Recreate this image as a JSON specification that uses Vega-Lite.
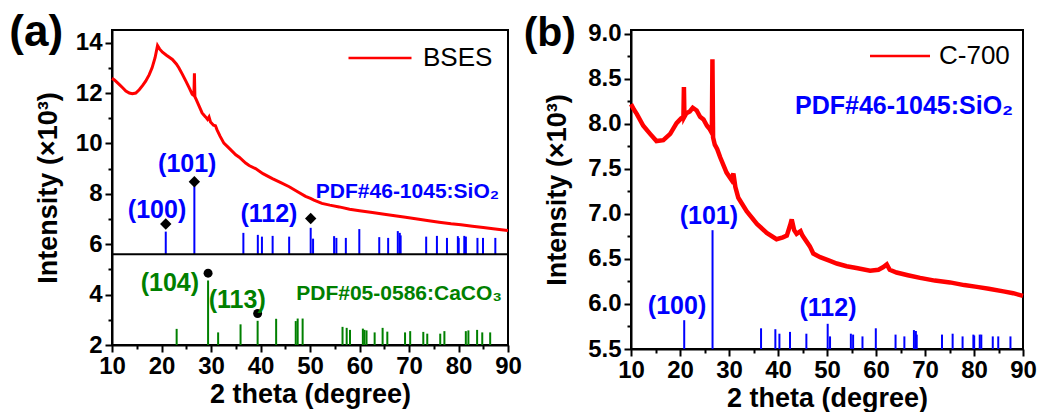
{
  "$schema": "https://vega.github.io/schema/vega-lite/v6.json",
  "background": "white",
  "padding": {"left": 8, "top": 10, "right": 5, "bottom": 0},
  "spacing": -1,
  "config": {
    "font": "Liberation Sans",
    "view": {"stroke": "black", "strokeWidth": 2},
    "axis": {
      "grid": false,
      "domainColor": "black", "domainWidth": 2,
      "tickColor": "black", "tickWidth": 2,
      "labelFont": "Liberation Sans", "labelFontWeight": "bold", "labelFontSize": 24, "labelColor": "black",
      "titleFont": "Liberation Sans", "titleFontWeight": "bold", "titleFontSize": 27, "titleColor": "black"
    },
    "legend": {
      "orient": "top-right", "padding": 2,
      "labelFont": "Liberation Sans", "labelFontSize": 26, "labelColor": "black", "labelFontWeight": "normal",
      "symbolType": "M-3,0H3", "symbolStrokeWidth": 2.5
    },
    "title": {"font": "Liberation Sans", "fontSize": 44, "fontWeight": "bold", "color": "black"}
  },
  "resolve": {"scale": {"color": "independent", "shape": "independent"}, "legend": {"color": "independent"}},
  "datasets": {
    "bses": [
      {"theta": 10, "intensity": 12.58}, {"theta": 10.5, "intensity": 12.52}, {"theta": 11.4, "intensity": 12.35},
      {"theta": 12.2, "intensity": 12.2}, {"theta": 12.8, "intensity": 12.08}, {"theta": 13.5, "intensity": 12.0},
      {"theta": 14.1, "intensity": 11.97}, {"theta": 14.8, "intensity": 12.0}, {"theta": 15.5, "intensity": 12.13},
      {"theta": 16.2, "intensity": 12.3}, {"theta": 16.8, "intensity": 12.47}, {"theta": 17.5, "intensity": 12.72},
      {"theta": 18.1, "intensity": 13.0}, {"theta": 18.7, "intensity": 13.4}, {"theta": 19.2, "intensity": 13.88},
      {"theta": 19.6, "intensity": 13.75}, {"theta": 20.2, "intensity": 13.62}, {"theta": 21.0, "intensity": 13.5},
      {"theta": 22.2, "intensity": 13.33}, {"theta": 23.0, "intensity": 13.15}, {"theta": 23.5, "intensity": 13.0},
      {"theta": 24.2, "intensity": 12.75}, {"theta": 24.9, "intensity": 12.48}, {"theta": 25.6, "intensity": 12.2},
      {"theta": 26.2, "intensity": 11.95}, {"theta": 26.55, "intensity": 11.9}, {"theta": 26.65, "intensity": 12.78},
      {"theta": 26.75, "intensity": 11.85}, {"theta": 27.0, "intensity": 11.75}, {"theta": 27.6, "intensity": 11.48},
      {"theta": 28.2, "intensity": 11.21}, {"theta": 28.9, "intensity": 11.05}, {"theta": 29.3, "intensity": 10.95},
      {"theta": 29.6, "intensity": 11.05}, {"theta": 29.9, "intensity": 10.85}, {"theta": 30.5, "intensity": 10.72},
      {"theta": 30.9, "intensity": 10.7}, {"theta": 31.2, "intensity": 10.55}, {"theta": 31.8, "intensity": 10.3},
      {"theta": 32.6, "intensity": 10.01}, {"theta": 33.8, "intensity": 9.78}, {"theta": 35.0, "intensity": 9.55},
      {"theta": 35.7, "intensity": 9.45}, {"theta": 37.0, "intensity": 9.22}, {"theta": 37.7, "intensity": 9.12},
      {"theta": 39.0, "intensity": 9.0}, {"theta": 40.5, "intensity": 8.8}, {"theta": 42.4, "intensity": 8.6},
      {"theta": 44.0, "intensity": 8.45}, {"theta": 45.8, "intensity": 8.28}, {"theta": 47.5, "intensity": 8.08},
      {"theta": 49.1, "intensity": 7.9}, {"theta": 50.1, "intensity": 7.82}, {"theta": 50.8, "intensity": 7.75},
      {"theta": 52.4, "intensity": 7.62}, {"theta": 54.0, "intensity": 7.55}, {"theta": 55.9, "intensity": 7.48},
      {"theta": 58.0, "intensity": 7.39}, {"theta": 60.0, "intensity": 7.33}, {"theta": 62.6, "intensity": 7.26},
      {"theta": 65.0, "intensity": 7.19}, {"theta": 67.5, "intensity": 7.12}, {"theta": 69.3, "intensity": 7.07},
      {"theta": 72.0, "intensity": 6.99}, {"theta": 74.0, "intensity": 6.93}, {"theta": 76.1, "intensity": 6.87},
      {"theta": 78.5, "intensity": 6.81}, {"theta": 80.5, "intensity": 6.77}, {"theta": 82.8, "intensity": 6.71},
      {"theta": 85.0, "intensity": 6.66}, {"theta": 87.0, "intensity": 6.61}, {"theta": 89.5, "intensity": 6.55},
      {"theta": 90, "intensity": 6.54}
    ],
    "c700": [
      {"theta": 10, "intensity": 8.22}, {"theta": 10.6, "intensity": 8.16}, {"theta": 11.2, "intensity": 8.11},
      {"theta": 12.5, "intensity": 7.98}, {"theta": 13.9, "intensity": 7.89}, {"theta": 15.2, "intensity": 7.81},
      {"theta": 16.6, "intensity": 7.82}, {"theta": 18.0, "intensity": 7.89}, {"theta": 19.3, "intensity": 8.01},
      {"theta": 20.2, "intensity": 8.06}, {"theta": 20.7, "intensity": 8.08}, {"theta": 20.8, "intensity": 8.41},
      {"theta": 20.9, "intensity": 8.08}, {"theta": 21.3, "intensity": 8.12}, {"theta": 22.0, "intensity": 8.14},
      {"theta": 22.6, "intensity": 8.18}, {"theta": 23.4, "intensity": 8.15}, {"theta": 24.1, "intensity": 8.08},
      {"theta": 24.8, "intensity": 8.05}, {"theta": 25.5, "intensity": 7.98}, {"theta": 26.1, "intensity": 7.94},
      {"theta": 26.5, "intensity": 7.9}, {"theta": 26.62, "intensity": 8.72}, {"theta": 26.75, "intensity": 7.85},
      {"theta": 27.1, "intensity": 7.77}, {"theta": 27.6, "intensity": 7.72}, {"theta": 28.2, "intensity": 7.63},
      {"theta": 29.5, "intensity": 7.46}, {"theta": 30.5, "intensity": 7.38}, {"theta": 30.9, "intensity": 7.45},
      {"theta": 31.3, "intensity": 7.3}, {"theta": 31.9, "intensity": 7.18}, {"theta": 33.6, "intensity": 7.03},
      {"theta": 35.7, "intensity": 6.89}, {"theta": 37.7, "intensity": 6.79}, {"theta": 39.7, "intensity": 6.72},
      {"theta": 41.0, "intensity": 6.74}, {"theta": 41.8, "intensity": 6.76}, {"theta": 42.5, "intensity": 6.88},
      {"theta": 42.8, "intensity": 6.94}, {"theta": 43.3, "intensity": 6.82}, {"theta": 43.8, "intensity": 6.78},
      {"theta": 44.6, "intensity": 6.81}, {"theta": 45.0, "intensity": 6.76}, {"theta": 46.5, "intensity": 6.64},
      {"theta": 47.2, "intensity": 6.56}, {"theta": 48.6, "intensity": 6.52}, {"theta": 50.6, "intensity": 6.48},
      {"theta": 52.0, "intensity": 6.45}, {"theta": 54.0, "intensity": 6.42}, {"theta": 56.0, "intensity": 6.4},
      {"theta": 58.8, "intensity": 6.37}, {"theta": 60.5, "intensity": 6.38}, {"theta": 61.5, "intensity": 6.41},
      {"theta": 62.2, "intensity": 6.44}, {"theta": 62.8, "intensity": 6.38}, {"theta": 64.2, "intensity": 6.35},
      {"theta": 66.5, "intensity": 6.32}, {"theta": 69.0, "intensity": 6.29}, {"theta": 72.0, "intensity": 6.26},
      {"theta": 75.1, "intensity": 6.24}, {"theta": 78.0, "intensity": 6.21}, {"theta": 80.6, "intensity": 6.19},
      {"theta": 83.0, "intensity": 6.17}, {"theta": 86.0, "intensity": 6.14}, {"theta": 88.0, "intensity": 6.12},
      {"theta": 90, "intensity": 6.09}
    ],
    "sio2": [
      {"theta": 20.86, "ha": 6.5, "hb": 5.82}, {"theta": 26.64, "ha": 8.3, "hb": 6.82},
      {"theta": 36.54, "ha": 6.45, "hb": 5.73}, {"theta": 39.46, "ha": 6.37, "hb": 5.72},
      {"theta": 40.29, "ha": 6.3, "hb": 5.67}, {"theta": 42.45, "ha": 6.33, "hb": 5.69},
      {"theta": 45.79, "ha": 6.3, "hb": 5.67}, {"theta": 50.14, "ha": 6.65, "hb": 5.78},
      {"theta": 50.62, "ha": 6.22, "hb": 5.64}, {"theta": 54.87, "ha": 6.32, "hb": 5.67},
      {"theta": 55.33, "ha": 6.25, "hb": 5.66}, {"theta": 57.24, "ha": 6.25, "hb": 5.64},
      {"theta": 59.96, "ha": 6.6, "hb": 5.73}, {"theta": 63.99, "ha": 6.28, "hb": 5.66},
      {"theta": 65.79, "ha": 6.25, "hb": 5.64}, {"theta": 67.74, "ha": 6.52, "hb": 5.71},
      {"theta": 68.14, "ha": 6.45, "hb": 5.7}, {"theta": 68.31, "ha": 6.35, "hb": 5.66},
      {"theta": 73.47, "ha": 6.3, "hb": 5.66}, {"theta": 75.64, "ha": 6.33, "hb": 5.67},
      {"theta": 77.67, "ha": 6.25, "hb": 5.64}, {"theta": 79.87, "ha": 6.32, "hb": 5.66},
      {"theta": 80.04, "ha": 6.25, "hb": 5.65}, {"theta": 81.17, "ha": 6.33, "hb": 5.66},
      {"theta": 81.49, "ha": 6.3, "hb": 5.66}, {"theta": 83.83, "ha": 6.25, "hb": 5.64},
      {"theta": 84.95, "ha": 6.25, "hb": 5.64}, {"theta": 87.44, "ha": 6.25, "hb": 5.64}
    ],
    "caco3": [
      {"theta": 23.06, "h": 2.64}, {"theta": 29.41, "h": 4.56}, {"theta": 31.44, "h": 2.5},
      {"theta": 35.97, "h": 2.82}, {"theta": 39.42, "h": 2.96}, {"theta": 43.16, "h": 3.04},
      {"theta": 47.12, "h": 2.95}, {"theta": 47.51, "h": 3.05}, {"theta": 48.51, "h": 3.05},
      {"theta": 56.57, "h": 2.72}, {"theta": 57.41, "h": 2.68}, {"theta": 58.08, "h": 2.6},
      {"theta": 60.68, "h": 2.65}, {"theta": 61.0, "h": 2.6}, {"theta": 61.42, "h": 2.58},
      {"theta": 63.06, "h": 2.5}, {"theta": 64.67, "h": 2.68}, {"theta": 65.62, "h": 2.53},
      {"theta": 69.2, "h": 2.5}, {"theta": 70.24, "h": 2.55}, {"theta": 72.89, "h": 2.52},
      {"theta": 73.69, "h": 2.45}, {"theta": 76.31, "h": 2.45}, {"theta": 77.15, "h": 2.55},
      {"theta": 81.48, "h": 2.55}, {"theta": 82.0, "h": 2.58}, {"theta": 83.76, "h": 2.6},
      {"theta": 84.8, "h": 2.5}, {"theta": 86.4, "h": 2.5}
    ],
    "markers": [
      {"theta": 20.86, "intensity": 6.8, "phase": "SiO2"},
      {"theta": 26.64, "intensity": 8.48, "phase": "SiO2"},
      {"theta": 50.14, "intensity": 7.02, "phase": "SiO2"},
      {"theta": 29.41, "intensity": 4.85, "phase": "CaCO3"},
      {"theta": 39.42, "intensity": 3.25, "phase": "CaCO3"}
    ],
    "labels_a": [
      {"theta": 19.1, "intensity": 7.36, "text": "(100)", "phase": "SiO2"},
      {"theta": 25.2, "intensity": 9.2, "text": "(101)", "phase": "SiO2"},
      {"theta": 41.7, "intensity": 7.2, "text": "(112)", "phase": "SiO2"},
      {"theta": 21.7, "intensity": 4.48, "text": "(104)", "phase": "CaCO3"},
      {"theta": 35.3, "intensity": 3.8, "text": "(113)", "phase": "CaCO3"}
    ],
    "pdf_a": [
      {"theta": 88.2, "intensity": 8.08, "text": "PDF#46-1045:SiO₂", "phase": "SiO2"},
      {"theta": 88.8, "intensity": 4.04, "text": "PDF#05-0586:CaCO₃", "phase": "CaCO3"}
    ],
    "labels_b": [
      {"theta": 19.4, "intensity": 5.98, "text": "(100)"},
      {"theta": 25.9, "intensity": 6.98, "text": "(101)"},
      {"theta": 50.2, "intensity": 5.96, "text": "(112)"}
    ],
    "pdf_b": [
      {"theta": 88.0, "intensity": 8.2, "text": "PDF#46-1045:SiO₂"}
    ],
    "divider": [{"intensity": 5.6}]
  },
  "hconcat": [
    {
      "width": 396,
      "height": 315,
      "title": {"text": "(a)", "anchor": "start", "frame": "bounds", "orient": "top", "dx": -25, "dy": 25, "offset": 0},
      "encoding": {
        "x": {
          "field": "theta", "type": "quantitative",
          "scale": {"domain": [10, 90], "nice": false, "zero": false},
          "axis": {
            "title": "2 theta (degree)",
            "values": [10, 15, 20, 25, 30, 35, 40, 45, 50, 55, 60, 65, 70, 75, 80, 85, 90],
            "labelExpr": "datum.value % 10 === 0 ? datum.label : ''",
            "tickSize": {"condition": {"test": "datum.value % 10 === 0", "value": 7}, "value": 4},
            "labelPadding": 2, "titlePadding": 3, "labelFlush": false, "labelOverlap": false
          }
        },
        "y": {
          "field": "intensity", "type": "quantitative",
          "scale": {"domain": [2, 14.5], "nice": false, "zero": false},
          "axis": {
            "title": "Intensity (×10³)",
            "values": [2, 3, 4, 5, 6, 7, 8, 9, 10, 11, 12, 13, 14],
            "labelExpr": "datum.value % 2 === 0 ? datum.label : ''",
            "tickSize": {"condition": {"test": "datum.value % 2 === 0", "value": 7}, "value": 4},
            "labelPadding": 3, "titlePadding": 13, "labelFlush": false, "labelOverlap": false
          }
        }
      },
      "layer": [
        {
          "data": {"name": "sio2"},
          "mark": {"type": "rule", "color": "#0000FF", "strokeWidth": 2},
          "encoding": {"y": {"field": "ha", "type": "quantitative"}, "y2": {"datum": 5.6}}
        },
        {
          "data": {"name": "caco3"},
          "mark": {"type": "rule", "color": "#008000", "strokeWidth": 2},
          "encoding": {"y": {"field": "h", "type": "quantitative"}, "y2": {"datum": 2}}
        },
        {
          "data": {"name": "divider"},
          "mark": {"type": "rule", "color": "black", "strokeWidth": 2},
          "encoding": {"x": null, "y": {"field": "intensity", "type": "quantitative"}}
        },
        {
          "data": {"name": "bses"},
          "mark": {"type": "line", "strokeWidth": 3},
          "encoding": {
            "color": {"datum": "BSES", "type": "nominal", "scale": {"range": ["#FF0000"]},
              "legend": {"title": null, "offset": 13, "symbolSize": 441, "labelOffset": 30}}
          }
        },
        {
          "data": {"name": "markers"},
          "mark": {"type": "point", "filled": true, "color": "black", "opacity": 1},
          "encoding": {
            "shape": {"field": "phase", "type": "nominal", "scale": {"domain": ["SiO2", "CaCO3"], "range": ["diamond", "circle"]}, "legend": null},
            "size": {"field": "phase", "type": "nominal", "scale": {"domain": ["SiO2", "CaCO3"], "range": [130, 80]}, "legend": null}
          }
        },
        {
          "data": {"name": "labels_a"},
          "transform": [{"filter": "datum.phase === 'SiO2'"}],
          "mark": {"type": "text", "color": "#0000FF", "fontSize": 25, "fontWeight": "bold", "baseline": "middle"},
          "encoding": {"text": {"field": "text"}}
        },
        {
          "data": {"name": "labels_a"},
          "transform": [{"filter": "datum.phase === 'CaCO3'"}],
          "mark": {"type": "text", "color": "#008000", "fontSize": 25, "fontWeight": "bold", "baseline": "middle"},
          "encoding": {"text": {"field": "text"}}
        },
        {
          "data": {"name": "pdf_a"},
          "transform": [{"filter": "datum.phase === 'SiO2'"}],
          "mark": {"type": "text", "color": "#0000FF", "fontSize": 21, "fontWeight": "bold", "baseline": "middle", "align": "right"},
          "encoding": {"text": {"field": "text"}}
        },
        {
          "data": {"name": "pdf_a"},
          "transform": [{"filter": "datum.phase === 'CaCO3'"}],
          "mark": {"type": "text", "color": "#008000", "fontSize": 21, "fontWeight": "bold", "baseline": "middle", "align": "right"},
          "encoding": {"text": {"field": "text"}}
        }
      ]
    },
    {
      "width": 392,
      "height": 319,
      "title": {"text": "(b)", "anchor": "start", "frame": "bounds", "orient": "top", "dx": -20, "dy": 33, "offset": 0, "fontSize": 41},
      "encoding": {
        "x": {
          "field": "theta", "type": "quantitative",
          "scale": {"domain": [10, 90], "nice": false, "zero": false},
          "axis": {
            "title": "2 theta (degree)",
            "values": [10, 15, 20, 25, 30, 35, 40, 45, 50, 55, 60, 65, 70, 75, 80, 85, 90],
            "labelExpr": "datum.value % 10 === 0 ? datum.label : ''",
            "tickSize": {"condition": {"test": "datum.value % 10 === 0", "value": 7}, "value": 4},
            "labelPadding": 2, "titlePadding": 3, "labelFlush": false, "labelOverlap": false
          }
        },
        "y": {
          "field": "intensity", "type": "quantitative",
          "scale": {"domain": [5.5, 9.044], "nice": false, "zero": false},
          "axis": {
            "title": "Intensity (×10³)",
            "values": [5.5, 5.75, 6, 6.25, 6.5, 6.75, 7, 7.25, 7.5, 7.75, 8, 8.25, 8.5, 8.75, 9],
            "format": ".1f",
            "labelExpr": "datum.value % 0.5 === 0 ? datum.label : ''",
            "tickSize": {"condition": {"test": "datum.value % 0.5 === 0", "value": 7}, "value": 4},
            "labelPadding": 3, "titlePadding": 16, "labelFlush": false, "labelOverlap": false
          }
        }
      },
      "layer": [
        {
          "data": {"name": "sio2"},
          "mark": {"type": "rule", "color": "#0000FF", "strokeWidth": 2},
          "encoding": {"y": {"field": "hb", "type": "quantitative"}, "y2": {"datum": 5.5}}
        },
        {
          "data": {"name": "c700"},
          "mark": {"type": "line", "strokeWidth": 4.5},
          "encoding": {
            "color": {"datum": "C-700", "type": "nominal", "scale": {"range": ["#FF0000"]},
              "legend": {"title": null, "offset": 11, "symbolSize": 400, "labelOffset": 26}}
          }
        },
        {
          "data": {"name": "labels_b"},
          "mark": {"type": "text", "color": "#0000FF", "fontSize": 25, "fontWeight": "bold", "baseline": "middle"},
          "encoding": {"text": {"field": "text"}}
        },
        {
          "data": {"name": "pdf_b"},
          "mark": {"type": "text", "color": "#0000FF", "fontSize": 25, "fontWeight": "bold", "baseline": "middle", "align": "right"},
          "encoding": {"text": {"field": "text"}}
        }
      ]
    }
  ]
}
